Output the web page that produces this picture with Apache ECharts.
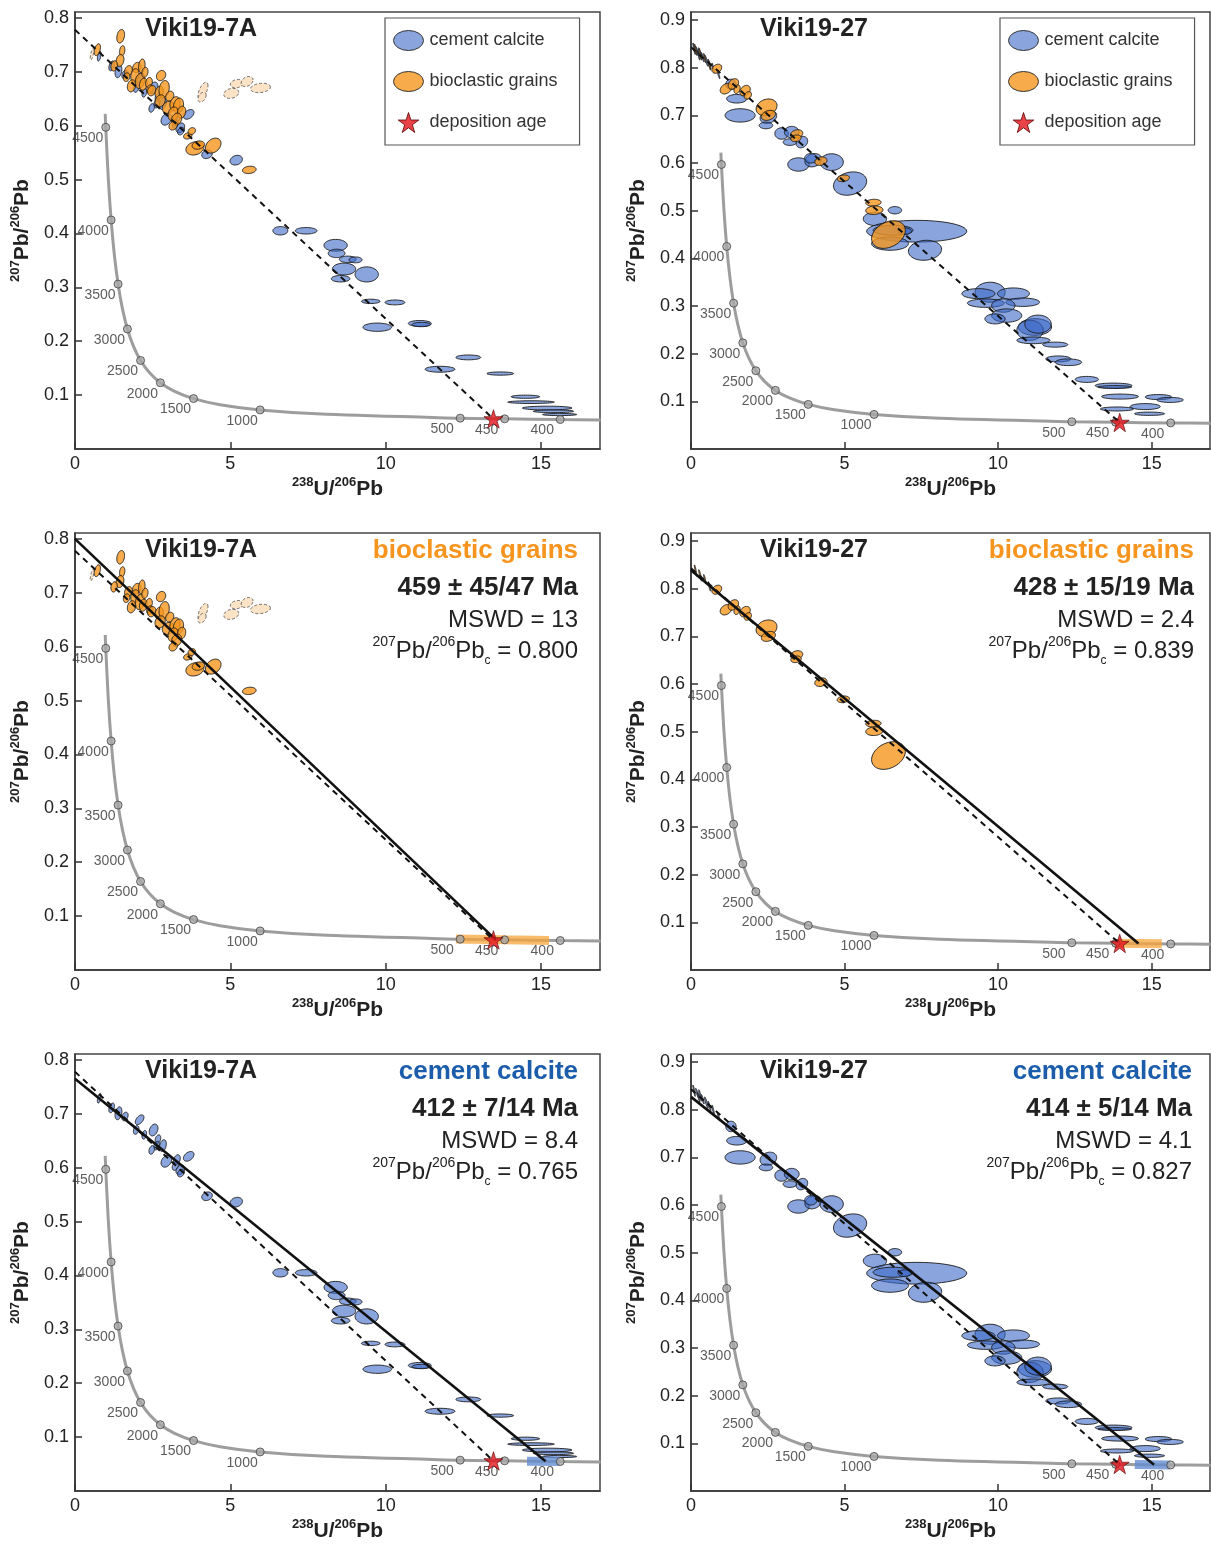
<!DOCTYPE html>
<html>
<head>
<meta charset="utf-8">
<script src="https://cdn.jsdelivr.net/npm/echarts@6/dist/echarts.min.js"></script>
<style>
  html, body { margin: 0; padding: 0; background: #fff; }
  #chart { width: 1211px; height: 1547px; }
</style>
</head>
<body>
<div id="chart"></div>
<script>
// ellipse rows: [238U/206Pb, 207Pb/206Pb, half-width x, half-height y, correlation]
const viki7A_grains = [
  [1.47, 0.766, 0.125, 0.0125, 0.25], [0.72, 0.741, 0.1, 0.011, 0.4], [1.52, 0.739, 0.085, 0.0095, 0.2],
  [1.45, 0.721, 0.125, 0.0112, 0.2], [1.26, 0.711, 0.105, 0.0095, 0.2], [1.72, 0.702, 0.125, 0.0095, 0.2],
  [1.66, 0.690, 0.105, 0.008, 0.2], [1.99, 0.708, 0.135, 0.0095, 0.2], [2.15, 0.711, 0.105, 0.0128, 0.2],
  [1.93, 0.693, 0.135, 0.0128, 0.2], [2.09, 0.683, 0.15, 0.0142, 0.2], [1.82, 0.674, 0.135, 0.0112, 0.2],
  [2.20, 0.677, 0.125, 0.0112, 0.2], [2.38, 0.680, 0.11, 0.0095, 0.2], [2.25, 0.699, 0.1, 0.0095, 0.2],
  [2.77, 0.693, 0.15, 0.0095, 0.2], [2.41, 0.668, 0.105, 0.008, 0.2], [2.47, 0.665, 0.135, 0.0095, 0.2],
  [2.71, 0.662, 0.135, 0.0112, 0.2], [2.87, 0.668, 0.165, 0.0158, 0.2], [2.74, 0.646, 0.165, 0.0112, 0.2],
  [3.00, 0.634, 0.19, 0.0112, 0.2], [3.22, 0.641, 0.165, 0.0128, 0.2], [3.33, 0.637, 0.165, 0.0142, 0.2],
  [3.16, 0.622, 0.165, 0.0128, 0.2], [3.43, 0.625, 0.135, 0.0112, 0.2], [3.27, 0.612, 0.165, 0.0112, 0.2],
  [3.16, 0.600, 0.135, 0.008, 0.2], [3.63, 0.581, 0.135, 0.0058, 0.2], [3.76, 0.590, 0.12, 0.0064, 0.2],
  [3.86, 0.558, 0.29, 0.0124, 0.2], [3.97, 0.564, 0.2, 0.0077, 0.2], [4.45, 0.563, 0.25, 0.0139, 0.3],
  [5.61, 0.518, 0.22, 0.0068, 0.15], [3.05, 0.655, 0.13, 0.009, 0.2]
]
const viki7A_cement = [
  [0.78, 0.729, 0.06, 0.009, 0.5], [1.18, 0.711, 0.09, 0.009, 0.4], [1.40, 0.701, 0.11, 0.012, 0.3],
  [1.61, 0.695, 0.1, 0.008, 0.3], [2.08, 0.689, 0.14, 0.009, 0.5], [1.97, 0.670, 0.09, 0.008, 0.3],
  [2.23, 0.661, 0.075, 0.008, 0.3], [2.53, 0.670, 0.14, 0.011, 0.3], [2.67, 0.653, 0.09, 0.008, 0.3],
  [2.63, 0.641, 0.09, 0.008, 0.3], [2.83, 0.641, 0.11, 0.011, 0.3], [2.47, 0.633, 0.09, 0.008, 0.3],
  [2.94, 0.612, 0.17, 0.011, 0.3], [3.28, 0.615, 0.11, 0.009, 0.3], [3.23, 0.603, 0.1, 0.008, 0.3],
  [3.39, 0.596, 0.14, 0.009, 0.3], [3.41, 0.590, 0.11, 0.007, 0.3], [3.66, 0.621, 0.17, 0.009, 0.4],
  [4.25, 0.547, 0.17, 0.008, 0.2], [5.19, 0.536, 0.2, 0.009, 0.2],
  [6.61, 0.405, 0.24, 0.0078, 0], [7.44, 0.405, 0.35, 0.006, 0], [8.39, 0.378, 0.375, 0.011, 0],
  [8.42, 0.363, 0.27, 0.0078, 0], [8.78, 0.352, 0.27, 0.006, 0], [9.03, 0.351, 0.21, 0.0055, 0],
  [8.66, 0.334, 0.375, 0.011, 0], [9.39, 0.324, 0.376, 0.014, 0], [8.55, 0.316, 0.30, 0.006, 0],
  [9.52, 0.274, 0.30, 0.004, 0], [10.3, 0.272, 0.32, 0.0045, 0], [9.73, 0.226, 0.46, 0.0077, 0],
  [11.1, 0.233, 0.37, 0.0055, 0], [11.15, 0.231, 0.30, 0.004, 0], [12.66, 0.170, 0.40, 0.0045, 0],
  [11.75, 0.148, 0.48, 0.0055, 0], [13.69, 0.140, 0.43, 0.003, 0], [14.5, 0.097, 0.46, 0.003, 0],
  [14.68, 0.087, 0.75, 0.0025, 0], [15.2, 0.076, 0.8, 0.0035, 0], [15.4, 0.070, 0.65, 0.0025, 0],
  [15.6, 0.064, 0.55, 0.002, 0]
]
const viki7A_excluded = [
  [4.12, 0.665, 0.16, 0.0155, 0.6], [4.09, 0.653, 0.13, 0.009, 0.4], [5.03, 0.660, 0.24, 0.0093, 0.2],
  [5.21, 0.678, 0.21, 0.0077, 0.2], [5.54, 0.682, 0.19, 0.0093, 0.3], [5.97, 0.670, 0.32, 0.0087, 0.2],
  [0.55, 0.733, 0.06, 0.011, 0.7]
]
const viki27_grains = [
  [0.15, 0.838, 0.04, 0.012, -0.9], [0.3, 0.828, 0.05, 0.012, -0.9], [0.45, 0.82, 0.04, 0.01, -0.9],
  [0.6, 0.805, 0.04, 0.01, -0.9],
  [0.84, 0.798, 0.16, 0.0095, 0.3], [1.14, 0.756, 0.19, 0.011, 0.3], [1.38, 0.766, 0.17, 0.011, 0.3],
  [1.50, 0.755, 0.1, 0.009, 0.3], [1.76, 0.752, 0.17, 0.011, 0.3], [1.85, 0.742, 0.12, 0.008, 0.3],
  [2.46, 0.717, 0.34, 0.0175, 0.2], [2.52, 0.700, 0.23, 0.0105, 0.3], [3.44, 0.661, 0.2, 0.009, 0.2],
  [3.42, 0.652, 0.17, 0.007, 0.2], [4.23, 0.604, 0.2, 0.009, 0.2], [4.96, 0.568, 0.2, 0.007, 0.2],
  [5.94, 0.517, 0.25, 0.007, 0.1], [5.97, 0.501, 0.28, 0.009, 0.1], [6.43, 0.450, 0.55, 0.029, 0.3]
]
const viki27_cement = [
  [0.10, 0.840, 0.04, 0.012, -0.9], [0.2, 0.835, 0.05, 0.010, -0.9], [0.3, 0.83, 0.05, 0.012, -0.9],
  [0.38, 0.822, 0.05, 0.01, -0.9], [0.5, 0.815, 0.06, 0.012, -0.9], [0.6, 0.808, 0.05, 0.01, -0.9],
  [0.72, 0.80, 0.04, 0.01, -0.9], [0.9, 0.785, 0.04, 0.008, -0.9], [0.25, 0.826, 0.04, 0.01, -0.9],
  [1.3, 0.765, 0.17, 0.011, 0], [1.49, 0.735, 0.33, 0.009, 0], [1.60, 0.700, 0.49, 0.014, 0],
  [2.52, 0.697, 0.27, 0.014, 0.2], [2.44, 0.679, 0.22, 0.007, 0], [2.95, 0.662, 0.22, 0.012, 0],
  [3.28, 0.665, 0.24, 0.012, 0], [3.61, 0.644, 0.19, 0.012, 0.2], [3.22, 0.644, 0.22, 0.007, 0],
  [3.50, 0.597, 0.35, 0.014, 0], [3.98, 0.606, 0.27, 0.014, 0.2], [3.9, 0.61, 0.2, 0.01, 0],
  [4.58, 0.602, 0.38, 0.0175, 0], [5.18, 0.557, 0.54, 0.0245, 0.2], [5.99, 0.483, 0.38, 0.014, 0],
  [6.64, 0.501, 0.22, 0.0077, 0], [7.35, 0.457, 1.63, 0.0228, 0], [6.58, 0.459, 0.65, 0.0105, 0],
  [6.48, 0.431, 0.6, 0.014, 0], [7.62, 0.417, 0.54, 0.021, 0.1], [6.96, 0.457, 0.22, 0.007, 0],
  [9.74, 0.329, 0.49, 0.021, 0], [9.36, 0.326, 0.54, 0.0105, 0], [10.5, 0.326, 0.52, 0.012, 0],
  [9.6, 0.306, 0.6, 0.0088, 0], [10.8, 0.308, 0.55, 0.0088, 0], [10.17, 0.301, 0.38, 0.014, 0],
  [10.28, 0.280, 0.49, 0.014, 0], [9.90, 0.273, 0.33, 0.0105, 0], [11.2, 0.256, 0.54, 0.0175, 0],
  [11.04, 0.249, 0.43, 0.021, 0], [11.3, 0.262, 0.43, 0.019, 0], [11.15, 0.228, 0.54, 0.007, 0],
  [11.86, 0.219, 0.41, 0.0053, 0], [11.96, 0.189, 0.41, 0.0063, 0], [12.29, 0.182, 0.43, 0.007, 0],
  [12.89, 0.146, 0.38, 0.0063, 0], [13.76, 0.133, 0.6, 0.0053, 0], [13.8, 0.130, 0.55, 0.003, 0],
  [13.97, 0.110, 0.6, 0.0053, 0], [15.22, 0.109, 0.43, 0.0053, 0], [15.6, 0.103, 0.43, 0.0053, 0],
  [14.79, 0.089, 0.49, 0.0063, 0], [13.87, 0.084, 0.54, 0.0042, 0], [14.93, 0.074, 0.49, 0.0035, 0]
]

// concordia
const concordiaPts = [
  [0.972, 0.622], [0.990, 0.597], [1.071, 0.503], [1.163, 0.425], [1.267, 0.360], [1.387, 0.306],
  [1.525, 0.261], [1.687, 0.2227], [1.880, 0.191], [2.111, 0.1643], [2.394, 0.142], [2.748, 0.1230],
  [3.206, 0.1071], [3.817, 0.0936], [4.67, 0.0822], [5.96, 0.0725], [8.10, 0.0643], [12.40, 0.0572],
  [13.83, 0.0560], [15.62, 0.0547], [16.92, 0.0540]
]
const ageMarks = [
  [0.990, 0.597, '4500'], [1.163, 0.425, '4000'], [1.387, 0.306, '3500'], [1.687, 0.2227, '3000'],
  [2.111, 0.1643, '2500'], [2.748, 0.1230, '2000'], [3.817, 0.0936, '1500'], [5.96, 0.0725, '1000'],
  [12.40, 0.0572, '500'], [13.83, 0.0560, '450'], [15.62, 0.0547, '400']
]

// regression lines and ages, per sample
const depositionStar = { '7A': [13.47, 0.0558], '27': [13.96, 0.0556] }
const dashedLine = { '7A': [[0, 0.778], [13.47, 0.0558]], '27': [[0, 0.843], [13.96, 0.0556]] }
const solidLines = [[[0, 0.800], [13.55, 0.0560]], [[0, 0.839], [14.57, 0.0554]], [[0, 0.765], [15.15, 0.0550]], [[0, 0.827], [15.08, 0.0550]]]
const ageBands = [[[12.26, 0.0573], [13.8, 0.0560], [15.26, 0.0549]], [[13.8, 0.0560], [15.33, 0.0549]], [[14.55, 0.0554], [15.6, 0.0547]], [[14.45, 0.0555], [15.6, 0.0547]]]
const fitLabels = ['bioclastic grains', 'bioclastic grains', 'cement calcite', 'cement calcite']
const fitAges = ['459 ± 45/47 Ma', '428 ± 15/19 Ma', '412 ± 7/14 Ma', '414 ± 5/14 Ma']
const fitMswd = ['13', '2.4', '8.4', '4.1']
const fitPbc = ['0.800', '0.839', '0.765', '0.827']

const font = 'Liberation Sans, Arial, sans-serif'
const BLUE = 'rgba(60,105,200,0.6)'
const ORANGE = 'rgba(245,150,30,0.8)'
const STAR = 'path://M50,2 L61,37 L98,37 L68,59 L79,95 L50,73 L21,95 L32,59 L2,37 L39,37 Z'
const ELLIPSE = 'path://M0,10 A15,10 0 1,0 30,10 A15,10 0 1,0 0,10 Z'

const panels = [
  { left: 75, top: 12, width: 525, ymax: 0.811, s: '7A' },
  { left: 691, top: 12, width: 519, ymax: 0.917, s: '27' },
  { left: 75, top: 533, width: 525, ymax: 0.811, s: '7A' },
  { left: 691, top: 533, width: 519, ymax: 0.917, s: '27' },
  { left: 75, top: 1054, width: 525, ymax: 0.811, s: '7A' },
  { left: 691, top: 1054, width: 519, ymax: 0.917, s: '27' }
]

function ellipseRender(fill, stroke, dash) {
  return function (params, api) {
    const cx = api.value(0), cy = api.value(1), sx = api.value(2), sy = api.value(3), r = api.value(4)
    const q = Math.sqrt(1 - r * r)
    const pts = []
    for (let k = 0; k < 48; k++) {
      const t = (k / 48) * Math.PI * 2
      pts.push(api.coord([cx + sx * Math.cos(t), cy + sy * (r * Math.cos(t) + q * Math.sin(t))]))
    }
    return {
      type: 'polygon',
      shape: { points: pts },
      style: { fill: fill, stroke: stroke, lineWidth: 0.9, lineDash: dash || null }
    }
  }
}

function ellipseSeries(name, data, g, fill, stroke, dash) {
  return {
    name: name, type: 'custom', xAxisIndex: g, yAxisIndex: g, clip: true, z: 2,
    dimensions: ['x', 'y', 'sx', 'sy', 'rho'], encode: { x: 0, y: 1 },
    itemStyle: { color: fill }, renderItem: ellipseRender(fill, stroke, dash), data: data, silent: true
  }
}

const series = []
panels.forEach((p, g) => {
  const row = Math.floor(g / 2)
  series.push({
    type: 'line', xAxisIndex: g, yAxisIndex: g, data: concordiaPts, smooth: 0.3, showSymbol: false,
    lineStyle: { color: '#9d9d9d', width: 3 }, z: 3, silent: true
  })
  if (row > 0) {
    const isGrain = row === 1
    series.push({
      type: 'line', xAxisIndex: g, yAxisIndex: g, data: ageBands[g - 2], showSymbol: false,
      lineStyle: { color: isGrain ? 'rgba(247,165,60,0.75)' : 'rgba(100,140,210,0.8)', width: 9 }, z: 3, silent: true
    })
  }
  series.push({
    type: 'scatter', xAxisIndex: g, yAxisIndex: g, symbolSize: 8, z: 4, silent: true,
    itemStyle: { color: '#a8a8a8', borderColor: '#444', borderWidth: 1 },
    label: { show: true, position: 'inside', offset: [-18, 11], fontSize: 14, color: '#333', fontFamily: font },
    data: ageMarks.map((a) => ({ value: [a[0], a[1]], label: { formatter: a[2] } }))
  })
  const grains = p.s === '7A' ? viki7A_grains : viki27_grains
  const cement = p.s === '7A' ? viki7A_cement : viki27_cement
  if (row !== 2 && p.s === '7A') series.push(ellipseSeries('excluded', viki7A_excluded, g, '#fde3c6', '#555', [3, 2]))
  if (row !== 1) series.push(ellipseSeries('cement calcite', cement, g, BLUE, '#1a1a1a'))
  if (row !== 2) series.push(ellipseSeries('bioclastic grains', grains, g, ORANGE, '#1a1a1a'))
  series.push({
    type: 'line', xAxisIndex: g, yAxisIndex: g, data: dashedLine[p.s], showSymbol: false, z: 5, silent: true,
    lineStyle: { color: '#111', width: 2, type: [6, 5] }
  })
  if (row > 0) {
    series.push({
      type: 'line', xAxisIndex: g, yAxisIndex: g, data: solidLines[g - 2], showSymbol: false, z: 5, silent: true,
      lineStyle: { color: '#111', width: 2.6 }
    })
  }
  series.push({
    name: 'deposition age', type: 'scatter', xAxisIndex: g, yAxisIndex: g, symbol: STAR, symbolSize: 19,
    symbolKeepAspect: true, z: 6, itemStyle: { color: '#e3141c', borderColor: '#5a0000', borderWidth: 0.8 },
    data: [depositionStar[p.s]]
  })
})

const nameRich = {
  b: { fontSize: 21, fontWeight: 'bold', color: '#222', fontFamily: font, lineHeight: 26 },
  sup: { fontSize: 13, fontWeight: 'bold', color: '#222', fontFamily: font, verticalAlign: 'top', lineHeight: 12 }
}

const titles = []
panels.forEach((p, g) => {
  titles.push({
    text: p.s === '7A' ? 'Viki19-7A' : 'Viki19-27', left: p.s === '7A' ? 145 : 760, top: p.top + 5, padding: 0,
    textStyle: { fontSize: 25, fontWeight: 'bold', color: '#222', fontFamily: font }
  })
})
for (let i = 0; i < 4; i++) {
  const p = panels[i + 2]
  const right = i % 2 === 0 ? 633 : (i === 1 ? 17 : 19)
  const grain = i < 2
  titles.push({ text: fitLabels[i], right: right, top: p.top + 5, padding: 0,
    textStyle: { fontSize: 26, fontWeight: 'bold', color: grain ? '#f7941d' : '#1b5cab', fontFamily: font } })
  titles.push({ text: fitAges[i], right: right, top: p.top + 42, padding: 0,
    textStyle: { fontSize: 26, fontWeight: 'bold', color: '#222', fontFamily: font } })
  titles.push({ text: 'MSWD = ' + fitMswd[i], right: right, top: p.top + 75, padding: 0,
    textStyle: { fontSize: 24, fontWeight: 'normal', color: '#222', fontFamily: font } })
  titles.push({
    text: '{sup|207}{n|Pb/}{sup|206}{n|Pb}{sub|c}{n| = ' + fitPbc[i] + '}', right: right, top: p.top + 102, padding: 0,
    textStyle: {
      fontWeight: 'normal',
      rich: {
        n: { fontSize: 24, fontWeight: 'normal', color: '#222', fontFamily: font, lineHeight: 32 },
        sup: { fontSize: 14, fontWeight: 'normal', color: '#222', fontFamily: font, verticalAlign: 'top', lineHeight: 14 },
        sub: { fontSize: 12, fontWeight: 'normal', color: '#222', fontFamily: font, verticalAlign: 'bottom', lineHeight: 10 }
      }
    }
  })
}

const legendData = [
  { name: 'cement calcite', icon: ELLIPSE, itemStyle: { color: 'rgb(138,165,222)', borderColor: '#333', borderWidth: 1 } },
  { name: 'bioclastic grains', icon: ELLIPSE, itemStyle: { color: 'rgb(247,171,75)', borderColor: '#333', borderWidth: 1 } },
  { name: 'deposition age', icon: STAR, itemStyle: { color: '#e3141c', borderColor: '#5a0000', borderWidth: 1 } }
]

const option = {
  animation: false,
  backgroundColor: '#fff',
  title: titles,
  legend: [385, 1000].map((left) => ({
    left: left, top: 18, orient: 'vertical', padding: [12, 22, 12, 8], itemWidth: 32, itemHeight: 20, itemGap: 20,
    borderColor: '#555', borderWidth: 1.2, backgroundColor: '#fff', selectedMode: false,
    textStyle: { fontSize: 18, color: '#333', fontFamily: font }, data: legendData
  })),
  grid: panels.map((p) => ({
    left: p.left, top: p.top, width: p.width, height: 437, show: true, borderColor: '#444', borderWidth: 1.5
  })),
  xAxis: panels.map((p, g) => ({
    type: 'value', gridIndex: g, min: 0, max: 16.9, interval: 5,
    name: '{sup|238}{b|U/}{sup|206}{b|Pb}', nameLocation: 'middle', nameGap: 27, nameTextStyle: { rich: nameRich },
    axisLine: { lineStyle: { color: '#333', width: 1.5 } },
    axisTick: { inside: true, length: 7, lineStyle: { color: '#333', width: 1.5 } },
    axisLabel: { fontSize: 18, color: '#222', margin: 6, showMaxLabel: false, fontFamily: font },
    splitLine: { show: false }
  })),
  yAxis: panels.map((p, g) => ({
    type: 'value', gridIndex: g, min: 0, max: p.ymax, interval: 0.1,
    name: '{sup|207}{b|Pb/}{sup|206}{b|Pb}', nameLocation: 'middle', nameGap: 40, nameRotate: 90,
    nameTextStyle: { rich: nameRich },
    axisLine: { lineStyle: { color: '#333', width: 1.5 } },
    axisTick: { inside: true, length: 7, lineStyle: { color: '#333', width: 1.5 } },
    axisLabel: {
      fontSize: 18, color: '#222', margin: 6, showMinLabel: false, showMaxLabel: false, fontFamily: font,
      formatter: (v) => v.toFixed(1)
    },
    splitLine: { show: false }
  })),
  series: series
}

const chart = echarts.init(document.getElementById('chart'))
chart.setOption(option)
</script>
</body>
</html>
